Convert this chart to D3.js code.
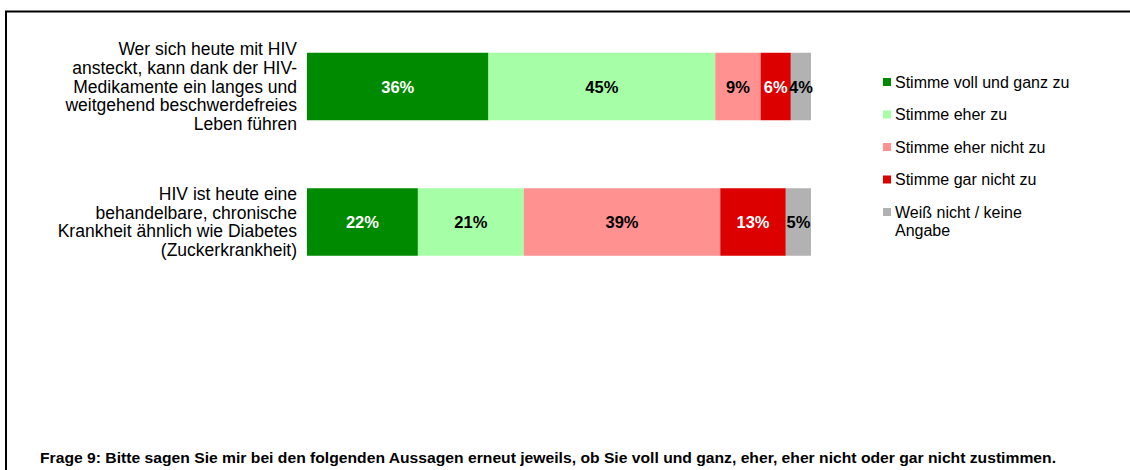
<!DOCTYPE html>
<html><head><meta charset="utf-8">
<script src="https://cdn.jsdelivr.net/npm/d3@7"></script>
<style>body{margin:0;background:#fff}svg{display:block}</style>
</head><body>
<svg id="c" width="1130" height="470"></svg>
<script>
const categories = [
  ["Wer sich heute  mit HIV", "ansteckt, kann dank der HIV-", "Medikamente ein langes und", "weitgehend beschwerdefreies", "Leben führen"],
  ["HIV ist heute eine", "behandelbare, chronische", "Krankheit ähnlich wie Diabetes", "(Zuckerkrankheit)"]
];
const seriesNames = ["Stimme voll und ganz zu", "Stimme eher zu", "Stimme eher nicht zu", "Stimme gar nicht zu", "Weiß nicht / keine Angabe"];
const vollUndGanz = [36, 22];
const eherZu = [45, 21];
const eherNicht = [9, 39];
const garNicht = [6, 13];
const weissNicht = [4, 5];
const footnote = "Frage 9: Bitte sagen  Sie mir bei den folgenden Aussagen  erneut  jeweils, ob Sie voll und ganz, eher, eher nicht oder gar nicht zustimmen.";

const colors = ["#008A00", "#A6FFA6", "#FF9191", "#DD0000", "#B2B2B2"];
const labelColors = ["#fff", "#000", "#000", "#fff", "#000"];
const seriesVals = [vollUndGanz, eherZu, eherNicht, garNicht, weissNicht];

const svg = d3.select("#c");
const font = "'Liberation Sans', Arial, sans-serif";

// frame
svg.append("line").attr("x1", 5).attr("x2", 1130).attr("y1", 11.5).attr("y2", 11.5).attr("stroke", "#000").attr("stroke-width", 2);
svg.append("line").attr("x1", 6).attr("x2", 6).attr("y1", 11).attr("y2", 470).attr("stroke", "#000").attr("stroke-width", 2);

const x = d3.scaleLinear().domain([0, 100]).range([307, 811]);
const yPos = d3.scalePoint().domain([0, 1]).range([86.5, 222]);
const barH = 67.5;

const stack = categories.map((c, i) => {
  let acc = 0;
  return seriesVals.map((s, k) => { const d = {i, k, x0: acc, x1: acc + s[i], v: s[i]}; acc += s[i]; return d; });
});

const g = svg.append("g");
stack.forEach(row => {
  g.selectAll(null).data(row).enter().append("rect")
    .attr("x", d => x(d.x0)).attr("width", d => x(d.x1) - x(d.x0))
    .attr("y", d => yPos(d.i) - barH / 2).attr("height", barH)
    .attr("fill", d => colors[d.k]);
  g.selectAll(null).data(row).enter().append("text")
    .attr("x", d => (x(d.x0) + x(d.x1)) / 2).attr("y", d => yPos(d.i) + 6)
    .attr("text-anchor", "middle").attr("font-family", font).attr("font-weight", "bold")
    .attr("font-size", 16.5).attr("fill", d => labelColors[d.k]).text(d => d.v + "%");
});

// category labels
categories.forEach((lines, i) => {
  const lh = 18.8;
  const t = svg.append("text").attr("font-family", font).attr("font-size", 17.5).attr("fill", "#000").attr("text-anchor", "end");
  lines.forEach((ln, j) => {
    t.append("tspan").attr("x", 297).attr("y", yPos(i) + 6 + (j - (lines.length - 1) / 2) * lh).text(ln);
  });
});

// legend
const legY = d3.scalePoint().domain(d3.range(seriesNames.length)).range([82, 212]);
seriesNames.forEach((n, k) => {
  svg.append("rect").attr("x", 883).attr("y", legY(k) - 4).attr("width", 8).attr("height", 8).attr("fill", colors[k]);
  const t = svg.append("text").attr("font-family", font).attr("font-size", 16).attr("fill", "#000");
  if (k === 4) {
    t.append("tspan").attr("x", 895).attr("y", legY(k) + 5.5).text("Weiß nicht / keine");
    t.append("tspan").attr("x", 895).attr("y", legY(k) + 24).text("Angabe");
  } else {
    t.append("tspan").attr("x", 895).attr("y", legY(k) + 5.5).text(n);
  }
});

// footnote
svg.append("text").attr("x", 40).attr("y", 463).attr("font-family", "'Liberation Sans Narrow', 'Liberation Sans', Arial, sans-serif")
  .attr("font-weight", "bold").attr("font-size", 15).attr("textLength", 1016).attr("lengthAdjust", "spacingAndGlyphs")
  .attr("fill", "#000").text(footnote);
</script>
</body></html>
